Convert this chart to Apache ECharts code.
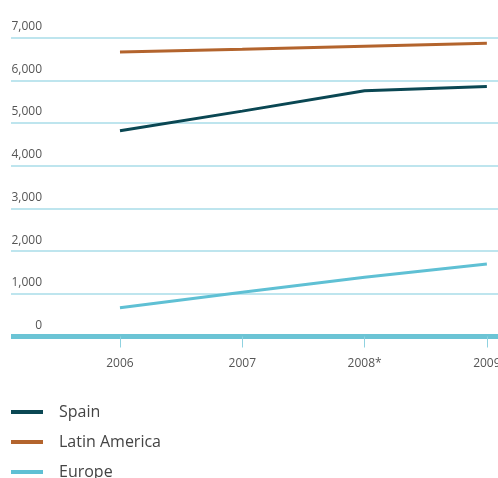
<!DOCTYPE html>
<html>
<head>
<meta charset="utf-8">
<script src="https://cdn.jsdelivr.net/npm/echarts@6/dist/echarts.min.js"></script>
<style>html,body{margin:0;padding:0;background:#fff;}#c{width:498px;height:478px;}</style>
</head>
<body>
<div id="c"></div>
<script>
const years = [2006, 2007, 2008, 2009];
const yearLabels = ['2006', '2007', '2008*', '2009'];
const yTicks = [0, 1000, 2000, 3000, 4000, 5000, 6000, 7000];
const spain = [4820, 5280, 5755, 5855];
const latinAmerica = [6665, 6730, 6800, 6870];
const europe = [675, 1036, 1387, 1699];
const seriesNames = ['Spain', 'Latin America', 'Europe'];
const colors = ['#0a4753', '#b3642d', '#5fc0d4'];

const pair = arr => arr.map((v, i) => [years[i], v]);
const font = '"Open Sans", sans-serif';

const legends = seriesNames.map((n, i) => ({
  orient: 'vertical',
  left: 11,
  top: 404 + i * 30,
  padding: 0,
  icon: 'rect',
  itemWidth: 32,
  itemHeight: 4,
  data: [n],
  textStyle: {color: '#444', fontSize: 16, fontFamily: font, padding: [0, 0, 0, 11]}
}));

const chart = echarts.init(document.getElementById('c'), null, {renderer: 'canvas'});
chart.setOption({
  animation: false,
  grid: {left: 11, right: 0, top: 37.7, bottom: 141.5, containLabel: false, outerBoundsMode: 'none'},
  xAxis: {
    type: 'value',
    min: 2005.109,
    max: 2009.091,
    splitLine: {show: false},
    axisLine: {show: true, onZero: false, lineStyle: {color: '#6bc4d5', width: 5, cap: 'butt'}},
    axisTick: {show: true, customValues: years, length: 11, lineStyle: {color: '#8fd2e0', width: 1}},
    axisLabel: {
      customValues: years,
      margin: 21,
      color: '#555',
      fontSize: 12,
      fontFamily: font,
      formatter: v => yearLabels[years.indexOf(Math.round(v))] || ''
    }
  },
  yAxis: {
    type: 'value',
    min: 0,
    max: 7000,
    interval: 1000,
    axisLine: {show: false},
    axisTick: {show: false},
    splitLine: {show: true, lineStyle: {color: '#a8dce8', width: 1.5}},
    axisLabel: {
      inside: true,
      margin: 31,
      align: 'right',
      verticalAlign: 'bottom',
      padding: [0, 0, 5, 0],
      color: '#555',
      fontSize: 12,
      fontFamily: font,
      formatter: v => yTicks.includes(v) ? v.toLocaleString('en-US') : ''
    }
  },
  legend: legends,
  series: [
    {name: seriesNames[0], type: 'line', data: pair(spain), color: colors[0], showSymbol: false, lineStyle: {width: 3}},
    {name: seriesNames[1], type: 'line', data: pair(latinAmerica), color: colors[1], showSymbol: false, lineStyle: {width: 3}},
    {name: seriesNames[2], type: 'line', data: pair(europe), color: colors[2], showSymbol: false, lineStyle: {width: 3}}
  ]
});
</script>
</body>
</html>
